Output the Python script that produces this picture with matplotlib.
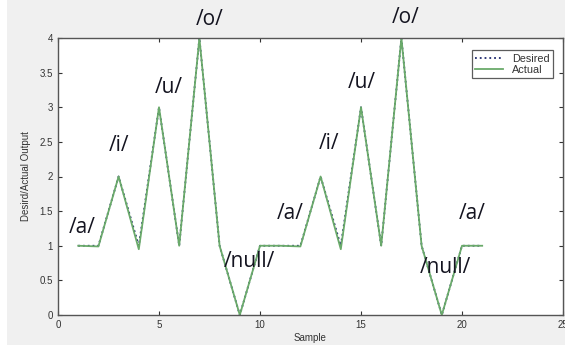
import matplotlib
matplotlib.use("Agg")
import matplotlib.pyplot as plt
from matplotlib.patches import Rectangle

samples = list(range(1, 22))
desired = [1, 1, 2, 1, 3, 1, 4, 1, 0, 1, 1, 1, 2, 1, 3, 1, 4, 1, 0, 1, 1]
actual = [1, 0.99, 2, 0.95, 3, 1, 4, 1, 0, 1, 1, 0.99, 2, 0.95, 3, 1, 4, 1, 0, 1, 1]

labels = ["/a/", "/i/", "/u/", "/o/", "/null/", "/a/", "/i/", "/u/", "/o/", "/null/", "/a/"]
label_x = [1.2, 3.0, 5.5, 7.5, 9.5, 11.5, 13.4, 15.05, 17.2, 19.2, 20.5]
label_y = [1.26, 2.45, 3.28, 4.27, 0.77, 1.47, 2.48, 3.36, 4.29, 0.68, 1.47]

plt.rcParams['font.family'] = ['Liberation Sans', 'DejaVu Sans']

W, H = 565, 348
fig = plt.figure(figsize=(W / 100, H / 100), dpi=100, facecolor='#f0f0f0')
# white margins on left and bottom as in the screenshot
fig.patches.append(Rectangle((0, 0), 7 / W, 1, transform=fig.transFigure,
                             facecolor='white', edgecolor='none', zorder=-1))
fig.patches.append(Rectangle((0, 0), 1, 3 / H, transform=fig.transFigure,
                             facecolor='white', edgecolor='none', zorder=-1))
ax = fig.add_axes([58 / W, 33 / H, 505 / W, 277 / H])
ax.set_facecolor('white')

ax.plot(samples, desired, linestyle=':', color='#1f2a6e', linewidth=1.3, label='Desired')
ax.plot(samples, actual, linestyle='-', color='#6aaa6a', linewidth=1.3, label='Actual')

ax.set_xlim(0, 25)
ax.set_ylim(0, 4)
ax.set_xticks([0, 5, 10, 15, 20, 25])
ax.set_xticklabels(['0', '5', '10', '15', '20', '25'])
ax.set_yticks([0, 0.5, 1, 1.5, 2, 2.5, 3, 3.5, 4])
ax.set_yticklabels(['0', '0.5', '1', '1.5', '2', '2.5', '3', '3.5', '4'])
ax.tick_params(direction='in', top=True, right=True, labelsize=7, colors='#333333',
               length=3, width=0.8)
for s in ax.spines.values():
    s.set_color('#555555')
    s.set_linewidth(1.0)

ax.set_xlabel('Sample', fontsize=7, color='#333333', labelpad=2)
ax.set_ylabel('Desird/Actual Output', fontsize=7, color='#333333', labelpad=6)

leg = ax.legend(loc='upper right', fontsize=7.8, frameon=True, fancybox=False,
                borderpad=0.3, labelspacing=0.1, handlelength=2.6,
                bbox_to_anchor=(0.99, 0.975))
leg.get_frame().set_edgecolor('#333333')
leg.get_frame().set_linewidth(0.9)
for t in leg.get_texts():
    t.set_color('#333333')

for lx, ly, lt in zip(label_x, label_y, labels):
    ax.text(lx, ly, lt, fontsize=15, color='#141420', ha='center', va='center',
            family=['Open Sans', 'DejaVu Sans'], fontweight='medium', clip_on=False)

fig.savefig('out.png', dpi=100, facecolor=fig.get_facecolor())
